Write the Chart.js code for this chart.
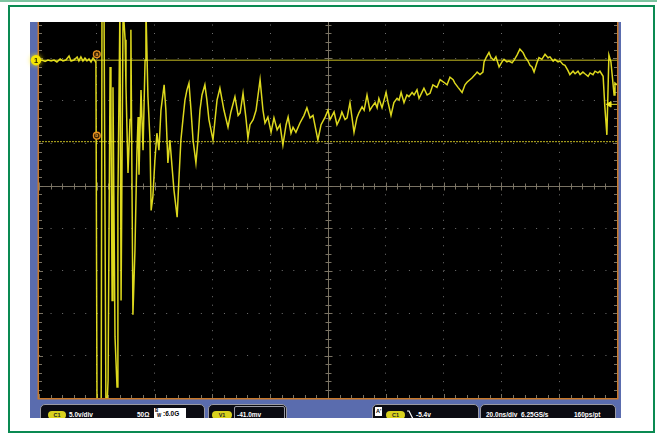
<!DOCTYPE html>
<html>
<head>
<meta charset="utf-8">
<title>CH1 capture</title>
<script src="https://cdn.jsdelivr.net/npm/chart.js@4.4.0/dist/chart.umd.min.js"></script>
<style>
  html, body { margin: 0; padding: 0; background: #fff; }
  #page { position: relative; width: 657px; height: 435px; overflow: hidden; background: #fff;
          font-family: "Liberation Sans", Arial, sans-serif; }
  #topline { position: absolute; left: 0; top: 0; width: 657px; height: 2px; background: #7cc4a0; }
  #frame { position: absolute; left: 8px; top: 5px; width: 643px; height: 424px; border: 2px solid #0a8a52; }
  #scope { position: absolute; left: 30px; top: 22px; width: 591px; height: 396px; background: #5a6cae; overflow: hidden; }
  #wrap { position: absolute; left: 0; top: 0; width: 657px; height: 435px; }
  .box { position: absolute; top: 382px; height: 22px; background: #0b0b12; border: 1px solid #9a9aa4;
         border-radius: 5px; color: #fff; font-weight: bold; font-size: 6.5px; }
  .box span { position: absolute; top: 6px; white-space: nowrap; }
  .pill { position: absolute; top: 6px; height: 8px; border-radius: 4px; background: #d9d21e;
          color: #222; font-size: 5.5px; line-height: 8px; text-align: center; }
  .bw { position: absolute; top: 3px; height: 11px; background: #fff; color: #000; }
</style>
</head>
<body>
<div id="page">
  <div id="topline"></div>
  <div id="frame"></div>
  <div id="scope">
    <div class="box" style="left:10px; width:163px;">
      <div class="pill" style="left:7px; width:18px;">C1</div>
      <span style="left:28px;">5.0v/div</span>
      <span style="left:96px;">50&Omega;</span>
      <div class="bw" style="left:113px; width:32px;">
        <span style="left:1px; top:0px; font-size:4.5px;">B</span>
        <span style="left:3px; top:5px; font-size:4.5px;">W</span>
        <span style="left:9px; top:2px;">:6.0G</span>
      </div>
    </div>
    <div class="box" style="left:178px; width:77px;">
      <div class="pill" style="left:3px; width:20px;">V1</div>
      <div style="position:absolute; left:25px; top:1px; width:49px; height:18px; border:1px solid #9a9aa4; border-radius:2px;"></div>
      <span style="left:28px;">-41.0mv</span>
    </div>
    <div class="box" style="left:342px; width:105px;">
      <div class="bw" style="left:2px; top:2px; width:7px; height:9px;">
        <span style="left:1px; top:1px; font-size:5.5px;">A'</span>
      </div>
      <div class="pill" style="left:13px; width:19px;">C1</div>
      <svg style="position:absolute; left:33px; top:4px;" width="9" height="12">
        <path d="M1 2 L3 2 L7 10 L9 10" stroke="#fff" stroke-width="1.2" fill="none"/>
      </svg>
      <span style="left:43px;">-5.4v</span>
    </div>
    <div class="box" style="left:450px; width:134px;">
      <span style="left:5px;">20.0ns/div</span>
      <span style="left:40px;">6.25GS/s</span>
      <span style="left:93px;">160ps/pt</span>
    </div>
  </div>
  <div id="wrap"><canvas id="scopeChart"></canvas></div>
</div>

<script>
// --- valores (CH1, 5 V/div, 20 ns/div) ---
const timeMin = -100, timeMax = 100;         // ns
const voltMin = -40, voltMax = 4.3;           // V
const timeGridNs = [-80, -60, -40, -20, 20, 40, 60, 80];
const voltGrid = [-35, -30, -25, -20, -10, -5, 0];
const centerTime = 0, centerVolts = -15;
const minorTimeStep = 4, minorVoltStep = 1;   // 1/5 de division

const groundVolts = -0.2;
const cursorVolts = [-0.2, -9.8];
const cursorMarkTime = -80.0;
const triggerVolts = -5.4;

// traza CH1: tiempos (ns) y tensiones (V)
const timeNs = [
  -100, -99, -97.9, -96.9, -95.8, -94.8, -93.8, -92.7, -91.7, -90.7, -89.6, -88.9, -87.9, -86.8, -86.2, -85.5, -84.8, -84.1, -83.4, -82.7, -82.0, -81.3, -80.6,
  -80.3, -79.9, -79.6, -78.5, -78.2, -77.5, -76.8, -76.1, -75.4, -75.1, -74.7, -74.4, -73.7, -73.0, -72.7, -72.0, -71.6, -70.9, -70.2, -69.9,
  -69.2, -68.5, -68.2, -67.5, -66.8, -66.1, -65.7, -65.4, -64.7, -64.0, -63.3, -63.0, -62.3, -61.6, -61.2, -60.6, -59.9, -59.2, -58.5, -57.8,
  -56.7, -56.1, -55.4, -54.7, -54.0, -53.3, -52.2, -51.6, -50.9, -50.2, -49.5, -48.8, -48.1, -47.4, -46.7, -45.7, -45.0, -44.3, -43.6, -42.6, -41.9, -41.2,
  -39.8, -38.4, -37.4, -36.0, -34.6, -33.6, -32.2, -31.1, -30.4, -29.4, -28.4, -27.7, -27.0, -25.9, -24.9, -23.5, -22.5, -21.8, -20.8, -19.7,
  -18.7, -17.6, -16.6, -15.6, -14.5, -13.8, -12.8, -12.1, -11.1, -9.7, -8.3, -7.3, -6.2, -5.2, -4.2, -3.5, -2.4, -1.0, 0,
  0.7, 2.1, 3.1, 4.2, 4.8, 5.9, 6.6, 7.6, 9.0, 10.0, 10.7, 11.8, 12.5, 13.5, 14.5, 15.2, 16.3, 17.0, 17.6, 18.7,
  19.4, 20.1, 20.8, 21.8, 22.8, 23.9, 24.6, 25.3, 26.3, 27.3, 28.0, 29.1, 29.8, 30.8, 31.5, 32.5, 33.2, 34.3, 35.3, 36.3,
  37.7, 38.8, 40.1, 41.2, 42.2, 43.3, 43.9, 45.0, 46.4, 47.4, 48.1, 49.1, 49.8, 50.9, 51.6, 52.6, 53.6, 54.0, 54.7, 55.7,
  56.4, 57.4, 58.1, 59.2, 60.2, 60.9, 61.9, 62.6, 63.7, 64.4, 65.4, 66.4, 67.5, 68.2, 69.2, 69.9, 70.6, 71.3, 72.3, 73.0,
  74.0, 75.1, 76.1, 76.8, 77.9, 78.5, 79.6, 80.3, 81.3, 82.0, 83.0, 83.7, 84.8, 85.5, 86.5, 87.2, 88.2, 88.9, 90.0, 90.7,
  91.7, 92.4, 93.4, 94.1, 95.2, 95.8, 96.5, 97.2, 97.9, 99.0, 99.3, 100
];
const ch1Volts = [
  -0.29, -0.18, -0.35, -0.18, -0.29, -0.18, -0.41, -0.06, -0.29, -0.18, 0.29, -0.29, -0.18, 0.18, -0.29, 0.18, -0.29, 0.06, -0.29, -0.06, -0.41, 0.06, -0.29,
  -0.53, -44, -44, -44, 6, 6, -44, -37.9, -1.0, -6.7, -28.5, -3.4, -32.8, -38.7, -16.7, 6, -28.5, 6, 2.2, -3.4,
  -13.5, -7.2, 3.4, -30.2, -22.6, -10.8, -6.9, -13.7, -3.7, -10.8, -0.2, 6, -4.5, -9.6, -17.9, -16.3, -12.0, -8.8, -10.8, -6.1,
  -3.1, -6.1, -12.3, -9.6, -12.6, -15.5, -18.7, -14.3, -9.6, -7.2, -4.9, -3.7, -2.9, -6.1, -9.6, -12.3, -9.6, -6.1, -4.3, -3.1, -4.9, -7.2,
  -9.6, -4.9, -3.5, -6.1, -8.1, -6.3, -4.5, -6.7, -6.4, -4.1, -7.0, -9.4, -7.8, -7.2, -6.1, -2.5, -6.1, -7.6, -6.9, -8.7,
  -7.0, -8.4, -7.8, -10.2, -7.8, -6.9, -8.8, -8.1, -8.7, -7.6, -6.7, -5.8, -7.0, -6.7, -8.4, -9.6, -7.8, -6.9, -6.1,
  -7.2, -6.3, -7.8, -7.0, -6.3, -7.2, -7.0, -5.2, -8.7, -7.0, -6.4, -5.7, -6.1, -4.3, -6.1, -5.7, -5.2, -5.8, -4.7, -5.8,
  -4.9, -4.0, -5.2, -6.7, -5.2, -4.7, -4.9, -4.0, -5.2, -4.3, -4.5, -4.0, -4.3, -3.7, -4.7, -4.0, -3.5, -4.3, -4.1, -3.1,
  -3.4, -2.5, -2.8, -3.1, -2.2, -2.5, -2.9, -3.4, -4.0, -3.1, -2.8, -2.5, -2.3, -1.9, -1.6, -1.9, -1.6, -0.4, 0.1, 0.7,
  0.1, -0.2, 0.2, -1.0, -0.4, -0.1, -0.4, -0.3, -0.5, -0.2, 0.4, 1.1, 0.7, 0.2, -0.3, -0.8, -1.0, -1.6, -0.5, 0.1,
  -0.1, 0.5, 0.1, 0.2, -0.3, -0.1, -0.4, -0.3, -0.7, -0.8, -1.4, -1.9, -1.5, -1.8, -1.5, -1.9, -1.6, -1.8, -2.1, -1.7,
  -1.9, -1.5, -1.7, -1.5, -2.1, -5.7, -9.0, 0.4, -0.4, -4.3, -2.9, -3.1
];

if (timeNs.length !== ch1Volts.length) {
    console.warn('Longitudes distintas:', timeNs.length, ch1Volts.length);
}
const ch1Points = timeNs.map((t, i) => ({ x: t, y: ch1Volts[i] }));

// --- reticula, marcos y marcadores del osciloscopio ---
const scopeFrame = {
    id: 'scopeFrame',
    beforeDraw(chart) {
        const { ctx, chartArea: a } = chart;
        ctx.save();
        ctx.fillStyle = '#000';
        ctx.fillRect(a.left, a.top, a.right - a.left, a.bottom - a.top);
        ctx.restore();
    },
    beforeDatasetsDraw(chart) {
        const { ctx, chartArea: a, scales: { x, y } } = chart;
        const cx = Math.round(x.getPixelForValue(centerTime)) + 0.5;
        const cy = Math.round(y.getPixelForValue(centerVolts)) + 0.5;
        ctx.save();
        ctx.strokeStyle = 'rgba(128,120,104,0.95)';
        ctx.lineWidth = 1;
        ctx.beginPath();
        ctx.moveTo(a.left, cy); ctx.lineTo(a.right, cy);
        ctx.moveTo(cx, a.top); ctx.lineTo(cx, a.bottom);
        for (let t = timeMin; t <= timeMax; t += minorTimeStep) {
            const px = Math.round(x.getPixelForValue(t)) + 0.5;
            const len = (t % 20 === 0) ? 4 : 3;
            ctx.moveTo(px, cy - len); ctx.lineTo(px, cy + len);
            ctx.moveTo(px, a.bottom); ctx.lineTo(px, a.bottom - len);
        }
        for (let v = voltMin; v <= voltMax; v += minorVoltStep) {
            const py = Math.round(y.getPixelForValue(v)) + 0.5;
            const len = (v % 5 === 0) ? 4 : 3;
            ctx.moveTo(cx - len, py); ctx.lineTo(cx + len, py);
            ctx.moveTo(a.left, py); ctx.lineTo(a.left + len, py);
            ctx.moveTo(a.right, py); ctx.lineTo(a.right - len, py);
        }
        ctx.stroke();
        ctx.restore();
    },
    afterDraw(chart) {
        const { ctx, chartArea: a, scales: { x, y } } = chart;
        ctx.save();
        // borde naranja
        ctx.strokeStyle = '#c8782a';
        ctx.lineWidth = 1.5;
        ctx.beginPath();
        ctx.moveTo(a.left - 0.75, a.top); ctx.lineTo(a.left - 0.75, a.bottom + 0.75);
        ctx.lineTo(a.right + 0.75, a.bottom + 0.75); ctx.lineTo(a.right + 0.75, a.top);
        ctx.stroke();

        // marcadores de cursor
        const mx = x.getPixelForValue(cursorMarkTime);
        ['a', 'b'].forEach((lbl, i) => {
            const my = y.getPixelForValue(cursorVolts[i]) - 6;
            ctx.beginPath();
            ctx.arc(mx, my, 3.4, 0, Math.PI * 2);
            ctx.fillStyle = '#3a2404';
            ctx.fill();
            ctx.strokeStyle = '#e8901e';
            ctx.lineWidth = 1.3;
            ctx.stroke();
            ctx.fillStyle = '#f0a030';
            ctx.font = 'bold 5px "Liberation Sans"';
            ctx.textAlign = 'center';
            ctx.textBaseline = 'middle';
            ctx.fillText(lbl, mx, my + 0.3);
        });

        // referencia de tierra del canal 1
        const gy = y.getPixelForValue(groundVolts);
        const gx = a.left - 3;
        ctx.shadowColor = 'rgba(255,235,0,0.9)';
        ctx.shadowBlur = 5;
        ctx.beginPath();
        ctx.arc(gx, gy, 5.2, 0, Math.PI * 2);
        ctx.fillStyle = '#f6e600';
        ctx.fill();
        ctx.shadowBlur = 0;
        ctx.fillStyle = '#1a1a00';
        ctx.font = 'bold 7.5px "Liberation Sans"';
        ctx.textAlign = 'center';
        ctx.textBaseline = 'middle';
        ctx.fillText('1', gx, gy + 0.5);
        ctx.restore();
    }
};

const gridColor = 'rgba(120,120,120,0.95)';

new Chart(document.getElementById('scopeChart'), {
    type: 'line',
    data: {
        datasets: [
            {
                label: 'CH1',
                data: ch1Points,
                borderColor: 'rgba(240,234,32,0.92)',
                borderWidth: 1.5,
                pointRadius: 0,
                tension: 0
            },
            {
                label: 'Trigger',
                data: [{ x: 97.4, y: triggerVolts }, { x: timeMax, y: triggerVolts }],
                borderColor: '#e8e020',
                backgroundColor: '#f2ea30',
                borderWidth: 1,
                pointRadius: [3.2, 0],
                pointStyle: 'triangle',
                pointRotation: 270
            },
            {
                label: 'Cursor 1',
                data: [{ x: timeMin, y: cursorVolts[0] }, { x: timeMax, y: cursorVolts[0] }],
                borderColor: 'rgba(205,195,35,0.95)',
                borderWidth: 1,
                pointRadius: 0
            },
            {
                label: 'Cursor 2',
                data: [{ x: timeMin, y: cursorVolts[1] }, { x: timeMax, y: cursorVolts[1] }],
                borderColor: 'rgba(205,195,35,0.95)',
                borderWidth: 1,
                borderDash: [2, 1],
                pointRadius: 0
            }
        ]
    },
    options: {
        responsive: true,
        maintainAspectRatio: false,
        animation: false,
        events: [],
        layout: { padding: { left: 39, right: 40, top: 22, bottom: 37 } },
        plugins: { legend: { display: false }, tooltip: { enabled: false } },
        scales: {
            x: {
                type: 'linear', min: timeMin, max: timeMax,
                afterBuildTicks: s => { s.ticks = timeGridNs.map(v => ({ value: v })); },
                ticks: { display: false },
                grid: { color: gridColor, lineWidth: 1, drawTicks: false },
                border: { display: false, dash: [1, 7.49], dashOffset: 5.95 }
            },
            y: {
                type: 'linear', min: voltMin, max: voltMax,
                afterBuildTicks: s => { s.ticks = voltGrid.map(v => ({ value: v })); },
                ticks: { display: false },
                grid: { color: gridColor, lineWidth: 1, drawTicks: false },
                border: { display: false, dash: [1, 10.56], dashOffset: 0 }
            }
        }
    },
    plugins: [scopeFrame]
});
</script>
</body>
</html>
